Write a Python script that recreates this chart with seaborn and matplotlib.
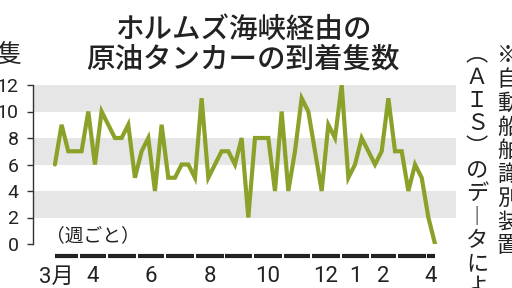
import matplotlib
matplotlib.use('Agg')
import matplotlib.pyplot as plt
import matplotlib.transforms as mtransforms
import seaborn as sns
import pandas as pd

# ---- data ----
start_date = '2025-03-07'
counts = [6, 9, 7, 7, 7, 10, 6, 10, 9, 8,
          8, 9, 5, 7, 8, 4, 9, 5, 5, 6,
          6, 5, 11, 5, 6, 7, 7, 6, 8, 2,
          8, 8, 8, 4, 10, 4, 7, 11, 10, 7,
          4, 9, 8, 12, 5, 6, 8, 7, 6, 7,
          11, 7, 7, 4, 6, 5, 2, 0]
month_labels = ['3月', '4', '6', '8', '10', '12', '1', '2', '4']
label_months = ['2025-03', '2025-04', '2025-06', '2025-08', '2025-10',
                '2025-12', '2026-01', '2026-02', '2026-04']
y_ticks = [0, 2, 4, 6, 8, 10, 12]
band_starts = [2, 6, 10]
title_lines = ['ホルムズ海峡経由の', '原油タンカーの到着隻数']
unit_label = '隻'
freq_label = '（週ごと）'
note_right = ['※', '自', '動', '船', '舶', '識', '別', '装', '置']
note_left = ['︵', 'Ａ', 'Ｉ', 'Ｓ', '︶', 'の', 'デ', '︱', 'タ', 'に', 'よ', 'る']

dates = pd.date_range(start_date, periods=len(counts), freq='7D')
df = pd.DataFrame({'date': dates, 'count': counts})

sns.set_style('white')
plt.rcParams['font.family'] = ['Noto Sans CJK JP', 'DejaVu Sans']

TXT = '#222222'
GREEN = '#8aa22a'
BAND = '#e6e6e6'
NUMFONT = ['Roboto', 'Noto Sans CJK JP']

W, H = 512, 288
fig = plt.figure(figsize=(W / 100, H / 100), dpi=100)
ax = fig.add_axes([33 / W, 1 - 244 / H, (456 - 33) / W, (244 - 85) / H])

for lo in band_starts:
    ax.axhspan(lo, lo + 2, color=BAND, lw=0, zorder=0)

sns.lineplot(data=df, x='date', y='count', color=GREEN, linewidth=3.0,
             ax=ax, zorder=3)
ax.lines[-1].set_solid_joinstyle('miter')

ax.set_ylim(0, 12)
ax.set_xlim(pd.Timestamp('2025-02-12'), pd.Timestamp('2026-05-02'))
ax.set_yticks(y_ticks)
ax.set_yticklabels([str(v) for v in y_ticks], family=NUMFONT)
ax.set_xticks([])
ax.set_xlabel('')
ax.set_ylabel('')
for s in ['top', 'right', 'bottom']:
    ax.spines[s].set_visible(False)
ax.spines['left'].set_color('#333333')
ax.spines['left'].set_linewidth(1.0)
ax.tick_params(axis='y', direction='out', length=4.5, width=1.0, color='#333333',
               pad=6, labelsize=14, labelcolor=TXT, left=True)
ax.set_facecolor('white')

# ---- month bar ----
trans = mtransforms.blended_transform_factory(ax.transData, ax.transAxes)
first, last = dates[0], dates[-1]
months = pd.date_range('2025-03-01', '2026-04-01', freq='MS')
gap = pd.Timedelta(days=1)
bar_y = (244 - 256) / (244 - 85)
lab_y = (244 - 277) / (244 - 85)
seg_centers = {}
for m in months:
    s = max(m, first)
    e = min(m + pd.offsets.MonthBegin(1), last)
    s2 = s + gap if s > first else s
    e2 = e - gap if e < last else e
    ax.plot([s2, e2], [bar_y, bar_y], transform=trans, color='#222222', lw=3.0,
            solid_capstyle='butt', clip_on=False)
    seg_centers[m.strftime('%Y-%m')] = s + (e - s) / 2

for lab, mk in zip(month_labels, label_months):
    if lab.endswith('月'):
        ax.text(pd.Timestamp('2025-03-27'), lab_y, lab, transform=trans, ha='right',
                va='center', fontsize=16, color=TXT, family=NUMFONT)
    else:
        ax.text(seg_centers[mk], lab_y, lab, transform=trans, ha='center',
                va='center', fontsize=16, color=TXT, family=NUMFONT)

# ---- texts ----
fig.text(243 / W, 1 - 29 / H, title_lines[0], ha='center', va='center',
         fontsize=20.5, color=TXT, fontweight='medium')
fig.text(243 / W, 1 - 59 / H, title_lines[1], ha='center', va='center',
         fontsize=20.5, color=TXT, fontweight='medium')
fig.text(21 / W, 1 - 55 / H, unit_label, ha='right', va='center', fontsize=18, color=TXT)
fig.text(93 / W, 1 - 236 / H, freq_label, ha='center', va='center', fontsize=13.5, color=TXT)

for k, ch in enumerate(note_right):
    fig.text(508 / W, 1 - (56 + 23.7 * k) / H, ch, ha='center', va='center',
             fontsize=16, color=TXT)
for k, ch in enumerate(note_left):
    fig.text(477 / W, 1 - (54 + 23.3 * k) / H, ch, ha='center', va='center',
             fontsize=16, color=TXT)

fig.savefig('out.png', dpi=100)
